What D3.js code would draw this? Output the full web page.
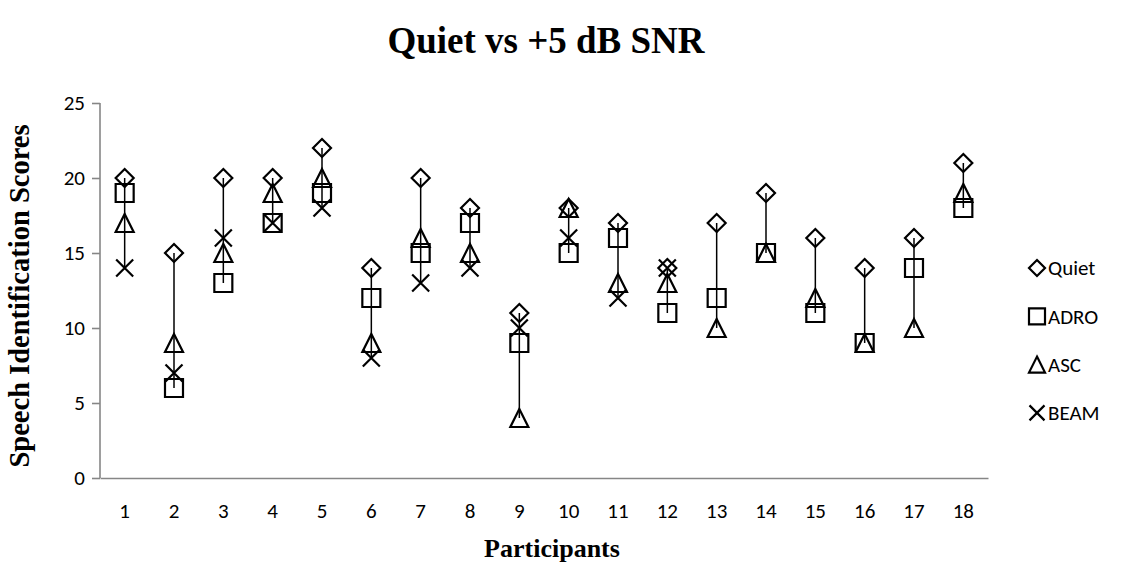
<!DOCTYPE html>
<html>
<head>
<meta charset="utf-8">
<script src="https://cdn.jsdelivr.net/npm/d3@7"></script>
<style>
  html, body { margin: 0; padding: 0; background: #fff; }
  svg { display: block; }
</style>
</head>
<body>
<svg id="chart" width="1122" height="571"></svg>
<script>
const participants = ["1","2","3","4","5","6","7","8","9","10","11","12","13","14","15","16","17","18"];
const quiet = [20,15,20,20,22,14,20,18,11,18,17,14,17,19,16,14,16,21];
const adro  = [19,6,13,17,19,12,15,17,9,15,16,11,12,15,11,9,14,18];
const asc   = [17,9,15,19,20,9,16,15,4,18,13,13,10,15,12,9,10,19];
const beam  = [14,7,16,17,18,8,13,14,10,16,12,14,null,null,null,null,null,null];
const yTicks = [0,5,10,15,20,25];
const seriesNames = ["Quiet","ADRO","ASC","BEAM"];
const seriesShapes = ["diamond","square","triangle","cross"];
const seriesValues = [quiet, adro, asc, beam];

(function () {
const svg = d3.select("#chart");
const mLeft = 100, mRight = 988, mTop = 103, mBottom = 478;

const x = d3.scaleBand().domain(participants).range([mLeft, mRight]).padding(0);
const y = d3.scaleLinear().domain([0, 25]).range([mBottom, mTop]);

const tickFont = "Carlito, Lato, sans-serif";
const serif = "'Liberation Serif', 'Times New Roman', serif";

// Title
svg.append("text").attr("x", 546).attr("y", 53).attr("text-anchor", "middle")
  .style("font-family", serif).style("font-weight", "bold").style("font-size", "37px")
  .text("Quiet vs +5 dB SNR");

// Y axis
const yAxis = svg.append("g").attr("transform", `translate(${mLeft},0)`)
  .call(d3.axisLeft(y).tickValues(yTicks).tickSize(8).tickPadding(7).tickFormat(d3.format("d")));
yAxis.select(".domain").attr("stroke", "#868686").attr("stroke-width", 1.6).attr("d", `M0,${mTop}V${mBottom}`);
yAxis.selectAll(".tick line").attr("stroke", "#868686").attr("stroke-width", 1.6);
yAxis.selectAll(".tick text").style("font-family", tickFont).style("font-size", "21px").attr("fill", "#000");

// X axis
const xAxis = svg.append("g").attr("transform", `translate(0,${mBottom})`)
  .call(d3.axisBottom(x).tickSize(0).tickPadding(25));
xAxis.select(".domain").attr("stroke", "#868686").attr("stroke-width", 1.6);
xAxis.selectAll(".tick text").style("font-family", tickFont).style("font-size", "21px").attr("fill", "#000");

// Axis titles
svg.append("text").attr("x", 552).attr("y", 557).attr("text-anchor", "middle")
  .style("font-family", serif).style("font-weight", "bold").style("font-size", "26px")
  .text("Participants");
svg.append("text").attr("transform", `translate(29,296) rotate(-90)`).attr("text-anchor", "middle")
  .style("font-family", serif).style("font-weight", "bold").style("font-size", "28.5px")
  .text("Speech Identification Scores");

// High-low lines
const hl = participants.map((p, i) => {
  const vals = seriesValues.map(s => s[i]).filter(v => v != null);
  return { p, hi: d3.max(vals), lo: d3.min(vals) };
});
svg.append("g").selectAll("line").data(hl).join("line")
  .attr("x1", d => x(d.p) + x.bandwidth() / 2).attr("x2", d => x(d.p) + x.bandwidth() / 2)
  .attr("y1", d => y(d.hi)).attr("y2", d => y(d.lo))
  .attr("stroke", "#000").attr("stroke-width", 1.5);

function shapePath(shape, s) {
  const h = s / 2;
  switch (shape) {
    case "diamond": return `M0,${-h}L${h},0L0,${h}L${-h},0Z`;
    case "square": return `M${-h},${-h}H${h}V${h}H${-h}Z`;
    case "triangle": return `M0,${-h}L${h},${h}H${-h}Z`;
    case "cross": return `M${-h},${-h}L${h},${h}M${h},${-h}L${-h},${h}`;
  }
}

seriesValues.forEach((vals, si) => {
  const pts = participants.map((p, i) => ({ p, v: vals[i] })).filter(d => d.v != null);
  const size = seriesShapes[si] === "cross" ? 17 : 18;
  svg.append("g").selectAll("path").data(pts).join("path")
    .attr("transform", d => `translate(${x(d.p) + x.bandwidth() / 2},${y(d.v)})`)
    .attr("d", shapePath(seriesShapes[si], size))
    .attr("fill", "none").attr("stroke", "#000").attr("stroke-width", 2.2)
    .attr("stroke-linejoin", "miter");
});

// Legend
const legend = svg.append("g");
seriesNames.forEach((name, i) => {
  const cy = 268 + i * 48.3;
  legend.append("path").attr("transform", `translate(1037,${cy})`)
    .attr("d", shapePath(seriesShapes[i], i === 3 ? 15 : 16))
    .attr("fill", "none").attr("stroke", "#000").attr("stroke-width", 2.2);
  legend.append("text").attr("x", 1048).attr("y", cy).attr("dy", "0.35em")
    .style("font-family", tickFont).style("font-size", "21px").text(name);
});
})();
</script>
</body>
</html>
